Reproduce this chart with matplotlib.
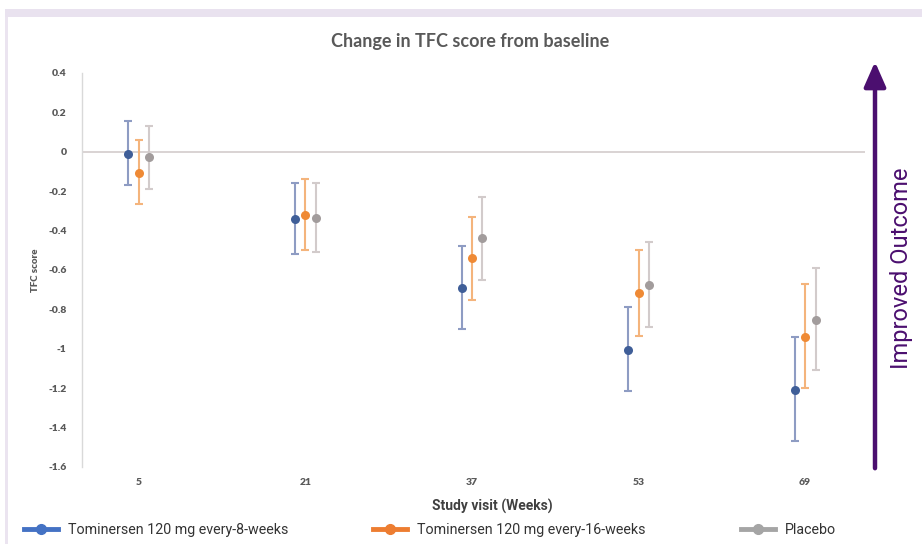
import matplotlib
matplotlib.use("Agg")
import matplotlib.pyplot as plt
from matplotlib.lines import Line2D
from matplotlib.patches import Rectangle, FancyArrowPatch
import numpy as np

weeks = ["5", "21", "37", "53", "69"]
series_names = ["Tominersen 120 mg every-8-weeks", "Tominersen 120 mg every-16-weeks", "Placebo"]
q8w_mean = [-0.01, -0.34, -0.69, -1.005, -1.21]
q8w_low = [-0.17, -0.52, -0.90, -1.215, -1.47]
q8w_high = [0.157, -0.16, -0.48, -0.79, -0.94]
q16w_mean = [-0.107, -0.32, -0.54, -0.716, -0.94]
q16w_low = [-0.265, -0.50, -0.75, -0.935, -1.20]
q16w_high = [0.06, -0.14, -0.33, -0.50, -0.67]
pbo_mean = [-0.025, -0.335, -0.44, -0.677, -0.852]
pbo_low = [-0.19, -0.51, -0.65, -0.89, -1.11]
pbo_high = [0.13, -0.16, -0.23, -0.46, -0.59]
yticks = [0.4, 0.2, 0, -0.2, -0.4, -0.6, -0.8, -1, -1.2, -1.4, -1.6]

W, H = 922, 544
fig = plt.figure(figsize=(W / 100, H / 100), dpi=100)
fig.patch.set_facecolor("white")

# lavender frame
fig.add_artist(Rectangle((5 / W, 0), 3 / W, 1 - 9 / H, transform=fig.transFigure,
                         color="#ebe4f0", lw=0, zorder=0))
fig.add_artist(Rectangle((5 / W, 1 - 17 / H), 1 - 5 / W, 8 / H, transform=fig.transFigure,
                         color="#e9e2ef", lw=0, zorder=0))

ax_l, ax_r, ax_t, ax_b = 82, 865, 73, 467
ax = fig.add_axes([ax_l / W, 1 - ax_b / H, (ax_r - ax_l) / W, (ax_b - ax_t) / H])
ax.set_facecolor("none")

x = np.arange(len(weeks))
off = 0.063
groups = [
    (q8w_mean, q8w_low, q8w_high, -off, "#3f5e98", "#8e9cc3"),
    (q16w_mean, q16w_low, q16w_high, 0.0, "#ef8a35", "#f4b47c"),
    (pbo_mean, pbo_low, pbo_high, off, "#a29c9c", "#d2cbcb"),
]
for mean, low, high, dx, pc, ec in groups:
    mean = np.array(mean); low = np.array(low); high = np.array(high)
    ax.errorbar(x + dx, mean, yerr=[mean - low, high - mean], fmt="none",
                ecolor=ec, elinewidth=1.5, capsize=3.2, capthick=1.5, zorder=2)
    ax.plot(x + dx, mean, "o", color=pc, markersize=6.5, zorder=3, mec="none")

ax.axhline(0, color="#d3cccc", lw=1.2, zorder=1)
ax.set_xlim(-0.342, 4.36)
ax.set_ylim(-1.6, 0.4)
ax.set_yticks(yticks)
ax.set_yticklabels([("%g" % v) for v in yticks])
ax.set_xticks(x)
ax.set_xticklabels(weeks)
for s in ["top", "right", "bottom"]:
    ax.spines[s].set_visible(False)
ax.spines["left"].set_color("#d9d9d9")
ax.spines["left"].set_linewidth(1.0)
ax.tick_params(axis="both", length=0, labelsize=7.5, labelcolor="#595959")
ax.tick_params(axis="y", pad=11)
ax.tick_params(axis="x", pad=8)
for lab in ax.get_xticklabels() + ax.get_yticklabels():
    lab.set_fontfamily("Lato")
    lab.set_fontweight("heavy")

fig.text(35 / W, 1 - 270 / H, "TFC score", rotation=90, ha="center", va="center",
         fontsize=7, fontweight="heavy", color="#595959", family="Lato")
fig.text(470 / W, 1 - 42 / H, "Change in TFC score from baseline", ha="center", va="center",
         fontsize=13, color="#595959", family="Lato", fontweight="bold")
fig.text(492 / W, 1 - 506 / H, "Study visit (Weeks)", ha="center", va="center",
         fontsize=10, color="#404040", family="Roboto", fontweight="bold")

# arrow
arrow = FancyArrowPatch((875 / W, 1 - 471 / H), (875 / W, 1 - 59 / H),
                        transform=fig.transFigure, arrowstyle="-|>,head_length=5,head_width=2.2",
                        mutation_scale=3, color="#4b0f6f", lw=3.2)
fig.add_artist(arrow)
fig.text(901 / W, 1 - 268 / H, "Improved Outcome", rotation=90, ha="center", va="center",
         fontsize=17, color="#4b0f6f", family="Roboto", fontweight="normal")

# legend
leg_colors = ["#4472c4", "#ed7d31", "#a5a5a5"]
leg_x = [24, 373, 741]
for name, c, lx in zip(series_names, leg_colors, leg_x):
    h = Line2D([], [], color=c, lw=3.5, marker="o", markersize=7)
    lg = fig.legend([h], [name], loc="center left", bbox_to_anchor=(lx / W, 1 - 530 / H),
                    frameon=False, handlelength=2.4, handletextpad=0.7, borderaxespad=0,
                    borderpad=0, prop={"family": "Roboto", "size": 10.3})
    for t in lg.get_texts():
        t.set_color("#333333")

fig.savefig("out.png", dpi=100)
